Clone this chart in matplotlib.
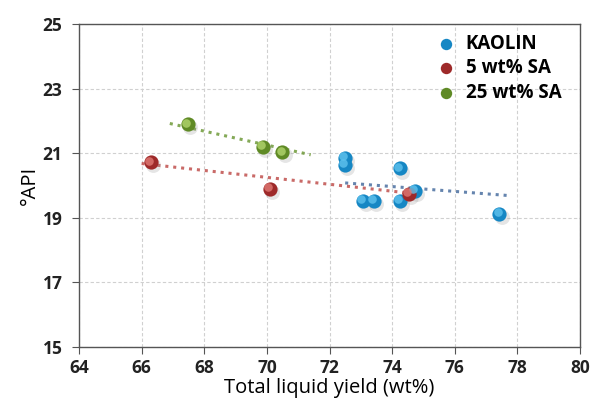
import matplotlib
matplotlib.use("Agg")
import matplotlib.pyplot as plt
import numpy as np

# data
kaolin_x = [72.48, 72.48, 74.24, 73.07, 73.41, 74.24, 74.73, 77.42]
kaolin_y = [20.85, 20.64, 20.53, 19.53, 19.53, 19.53, 19.84, 19.13]
sa5_x = [66.29, 70.09, 74.53]
sa5_y = [20.72, 19.90, 19.75]
sa25_x = [67.48, 69.87, 70.49]
sa25_y = [21.90, 21.20, 21.03]

# trendlines as drawn in the reference (start / end)
kaolin_trend_x = [72.5, 77.7]
kaolin_trend_y = [20.08, 19.69]
sa5_trend_x = [66.0, 74.5]
sa5_trend_y = [20.68, 19.77]
sa25_trend_x = [66.9, 71.4]
sa25_trend_y = [21.92, 20.95]

x_ticks = [64, 66, 68, 70, 72, 74, 76, 78, 80]
y_ticks = [15, 17, 19, 21, 23, 25]

series = [
    ("KAOLIN", kaolin_x, kaolin_y, kaolin_trend_x, kaolin_trend_y,
     "#1687c4", "#5fc3ee", "#4a6fa0"),
    ("5 wt% SA", sa5_x, sa5_y, sa5_trend_x, sa5_trend_y,
     "#9e2a2a", "#e07a74", "#c0504d"),
    ("25 wt% SA", sa25_x, sa25_y, sa25_trend_x, sa25_trend_y,
     "#5f8a25", "#b3d66e", "#6f9a3a"),
]

plt.rcParams["font.family"] = ["Open Sans", "DejaVu Sans"]

fig = plt.figure(figsize=(5.92, 4.03), dpi=100)
ax = fig.add_axes([79 / 592, 1 - 347 / 403, 501 / 592, 323 / 403])

for label, xs, ys, tx, ty, dark, light, lc in series:
    ax.plot(tx, ty, ls=(0, (1, 1.6)), lw=2.2, color=lc, alpha=0.85, zorder=2)

for label, xs, ys, tx, ty, dark, light, lc in series:
    # sphere-ish markers: shadow, body, highlight
    ax.scatter(np.array(xs) + 0.08, np.array(ys) - 0.1, s=115, color="#999999",
               alpha=0.25, lw=0, zorder=3)
    ax.scatter(xs, ys, s=105, color=dark, lw=0, zorder=4, label=label)
    ax.scatter(np.array(xs) - 0.05, np.array(ys) + 0.05, s=38, color=light,
               lw=0, alpha=0.8, zorder=5)

ax.set_xlim(64, 80)
ax.set_ylim(15, 25)
ax.set_xticks(x_ticks)
ax.set_yticks(y_ticks)
ax.tick_params(labelsize=12.5, length=5, color="#555555", direction="out")
ax.tick_params(axis="y", pad=7)
for t in ax.get_xticklabels() + ax.get_yticklabels():
    t.set_fontweight("bold")
    t.set_color("#222222")
ax.grid(True, ls=(0, (3, 2)), color="#d0d0d0", lw=0.8)
ax.set_axisbelow(True)
for s in ax.spines.values():
    s.set_color("#555555")
    s.set_linewidth(1.0)

ax.set_xlabel("Total liquid yield (wt%)", fontsize=14.5, labelpad=1)
ax.set_ylabel("°API", fontsize=14.5, labelpad=2)

leg = ax.legend(loc="upper right", bbox_to_anchor=(0.985, 1.005), frameon=False,
                prop={"size": 13.5, "weight": "bold"}, handletextpad=0.05,
                labelspacing=0.25, markerscale=0.8, borderaxespad=0.2)

fig.savefig("out.png", dpi=100)
